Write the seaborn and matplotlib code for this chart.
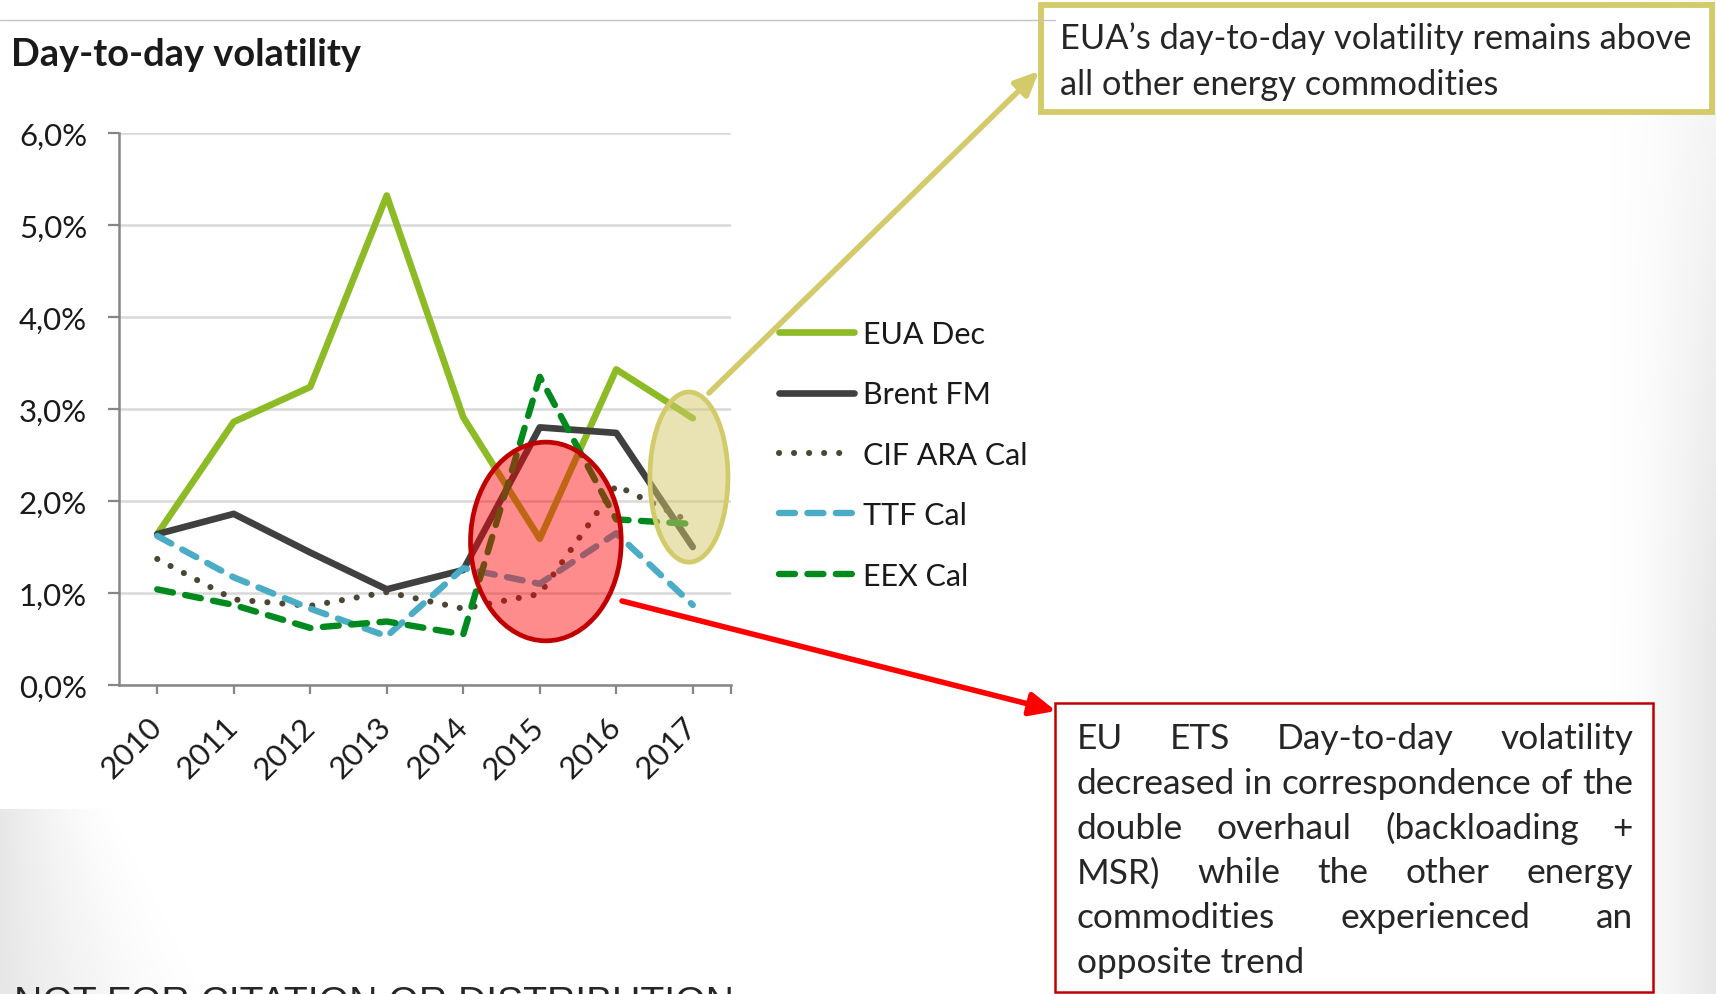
import numpy as np
import pandas as pd
import matplotlib
matplotlib.use("Agg")
import matplotlib.pyplot as plt
import seaborn as sns
from matplotlib.patches import Ellipse, FancyArrowPatch, Rectangle
from matplotlib.lines import Line2D
from matplotlib.ticker import FuncFormatter, FixedLocator

# ---- data (day-to-day volatility, %) ----
years = ["2010", "2011", "2012", "2013", "2014", "2015", "2016", "2017"]
eua_dec = [1.64, 2.86, 3.24, 5.32, 2.91, 1.59, 3.43, 2.90]
brent_fm = [1.64, 1.86, 1.44, 1.04, 1.25, 2.80, 2.74, 1.50]
cif_ara_cal = [1.37, 0.93, 0.86, 1.01, 0.83, 0.99, 2.17, 1.76]
ttf_cal = [1.62, 1.17, 0.83, 0.53, 1.27, 1.10, 1.65, 0.87]
eex_cal = [1.04, 0.87, 0.62, 0.69, 0.55, 3.35, 1.80, 1.75]
series_names = ["EUA Dec", "Brent FM", "CIF ARA Cal", "TTF Cal", "EEX Cal"]
y_ticks = [0, 1, 2, 3, 4, 5, 6]

title_text = "Day-to-day volatility"
note_top = ["EUA\u2019s day-to-day volatility remains above",
            "all other energy commodities"]
note_bottom = ["EU ETS Day-to-day volatility",
               "decreased in correspondence of the",
               "double overhaul (backloading +",
               "MSR) while the other energy",
               "commodities experienced an",
               "opposite trend"]
footer_text = "NOT FOR CITATION OR DISTRIBUTION"

# ---- styling ----
W, H = 1716, 995
FONT = "Lato"
sns.set_theme(style="white")
plt.rcParams["font.family"] = [FONT, "DejaVu Sans"]

styles = {
    "EUA Dec":     dict(color="#8cbb26", dashes=None, lw=4.8),
    "Brent FM":    dict(color="#404040", dashes=None, lw=4.8),
    "CIF ARA Cal": dict(color="#4d4634", dashes=(0.01, 2.45), lw=4.4),
    "TTF Cal":     dict(color="#4bacc6", dashes=(2.5, 1.95), lw=4.6),
    "EEX Cal":     dict(color="#008a1e", dashes=(2.5, 1.95), lw=4.6),
}
TEXT_COLOR = "#262626"
OLIVE = "#d3ca6a"


def fx(x):
    return x / W


def fy(y):
    return 1 - y / H


fig = plt.figure(figsize=(W / 100, H / 100), dpi=100)
fig.patch.set_facecolor("white")
renderer = fig.canvas.get_renderer()


def fitted_size(text, target_px, **kw):
    """Font size at which `text` spans target_px pixels."""
    probe = fig.text(0, 0, text, fontsize=20, **kw)
    width = probe.get_window_extent(renderer).width
    probe.remove()
    return 20 * target_px / width


# soft slide background: grey fade at the lower-left and along the right edge
bg = fig.add_axes([0, 0, 1, 1], zorder=-10)
xx, yy = np.meshgrid(np.arange(W, dtype=float), np.arange(H, dtype=float))
reach = 110 + np.clip(yy - 810, 0, None) * 0.5
left = np.where(yy >= 810, np.clip(1 - xx / reach, 0, 1), 0.0)
right = np.clip((xx - 1610) / 106, 0, 1)
shade = 24 * left ** 1.4 + 24 * right ** 1.5 * np.clip(0.35 + yy / H, 0, 1)
img = np.clip(255 - shade, 0, 255).astype(np.uint8)
bg.imshow(np.dstack([img, img, img]), extent=[0, W, H, 0], aspect="auto")
bg.set_xlim(0, W)
bg.set_ylim(H, 0)
bg.axis("off")

# ---- main chart ----
ax = fig.add_axes([fx(119), fy(686), (731 - 119) / W, (686 - 134) / H])
ax.set_facecolor("none")
table = {"EUA Dec": eua_dec, "Brent FM": brent_fm, "CIF ARA Cal": cif_ara_cal,
         "TTF Cal": ttf_cal, "EEX Cal": eex_cal}
for name in series_names:
    st = styles[name]
    df = pd.DataFrame({"year": years, "value": table[name]})
    sns.lineplot(data=df, x="year", y="value", ax=ax, sort=False,
                 color=st["color"], linewidth=st["lw"], label=name, zorder=3)
    ln = ax.lines[-1]
    ln.set_linewidth(st["lw"])
    if st["dashes"] is not None:
        ln.set_dashes(st["dashes"])
        ln.set_dash_capstyle("round")
    else:
        ln.set_solid_capstyle("round")
    ln.set_solid_joinstyle("round")
    ln.set_dash_joinstyle("round")

ax.set_xlim(-0.5, len(years) - 0.5)
ax.set_ylim(0, 6)
ax.set_xlabel("")
ax.set_ylabel("")
ax.yaxis.set_major_locator(FixedLocator(y_ticks))
ax.yaxis.set_major_formatter(FuncFormatter(lambda v, _: f"{v:.1f}%".replace(".", ",")))
ax.grid(axis="y", color="#d9d9d9", linewidth=1.8, zorder=0)
ax.grid(axis="x", visible=False)
for side in ("top", "right"):
    ax.spines[side].set_visible(False)
for side in ("left", "bottom"):
    ax.spines[side].set_color("#868686")
    ax.spines[side].set_linewidth(1.8)

ax.set_xticks(range(len(years)))
ax.set_xticklabels(years)
ax.xaxis.set_minor_locator(FixedLocator([len(years) - 0.5]))
ax.tick_params(axis="x", which="both", direction="out", length=6.5, width=1.6,
               color="#868686", bottom=True)
ax.tick_params(axis="x", which="major", labelsize=22.5, labelcolor="#1a1a1a", pad=20)
ax.tick_params(axis="y", direction="out", length=8, width=1.6, color="#868686",
               left=True, labelsize=22.5, labelcolor="#1a1a1a", pad=15)
for lab in ax.get_xticklabels():
    lab.set_rotation(45)
    lab.set_ha("right")
    lab.set_va("center")
    lab.set_rotation_mode("anchor")
    lab.set_x(lab.get_position()[0])

handles, labels = ax.get_legend_handles_labels()
leg = ax.legend(handles, labels, loc="upper left",
                bbox_to_anchor=(fx(779), fy(321)), bbox_transform=fig.transFigure,
                frameon=False, fontsize=22, handlelength=2.45, handletextpad=0.3,
                labelspacing=1.06, borderpad=0, borderaxespad=0)
for t in leg.get_texts():
    t.set_color("#1a1a1a")

# highlight ellipses (data coordinates)
ax.add_patch(Ellipse((5.08, 1.56), 1.97, 2.16, facecolor=(1.0, 0.0, 0.0, 0.45),
                     edgecolor="#c00000", linewidth=3.4, zorder=5, clip_on=False))
ax.add_patch(Ellipse((6.95, 2.26), 1.02, 1.85, facecolor=(0.83, 0.79, 0.42, 0.5),
                     edgecolor=OLIVE, linewidth=3.4, zorder=5, clip_on=False))

# ---- title and page furniture ----
fig.text(fx(11), fy(55), title_text,
         fontsize=fitted_size(title_text, 350, fontweight="bold"),
         fontweight="bold", color="#1a1a1a", ha="left", va="center")
fig.add_artist(Line2D([0, fx(1055)], [fy(20.5), fy(20.5)], color="#c4c4c4",
                      linewidth=1.0, transform=fig.transFigure, zorder=9))
fig.text(fx(14), fy(986), footer_text,
         fontsize=fitted_size(footer_text, 718, family="Liberation Sans"),
         family="Liberation Sans", color=TEXT_COLOR, ha="left", va="top")

# callout arrows
fig.add_artist(FancyArrowPatch((fx(709), fy(394)), (fx(1039), fy(72)),
                               transform=fig.transFigure,
                               arrowstyle="-|>,head_length=1.1,head_width=0.5",
                               mutation_scale=13, color=OLIVE, linewidth=4.0,
                               shrinkA=0, shrinkB=0, zorder=6))
fig.add_artist(FancyArrowPatch((fx(622), fy(602)), (fx(1056), fy(712)),
                               transform=fig.transFigure,
                               arrowstyle="-|>,head_length=1.1,head_width=0.5",
                               mutation_scale=14, color="#ff0000", linewidth=4.0,
                               shrinkA=0, shrinkB=0, zorder=6))

# upper callout box
fig.add_artist(Rectangle((fx(1041), fy(113)), (1712 - 1041) / W, (113 - 6) / H,
                         transform=fig.transFigure, facecolor="white",
                         edgecolor=OLIVE, linewidth=4.2, zorder=7))
top_size = fitted_size(note_top[0], 632)
for i, line in enumerate(note_top):
    fig.text(fx(1060), fy(39 + 46 * i), line, fontsize=top_size, color=TEXT_COLOR,
             ha="left", va="center", zorder=8)

# lower callout box with justified text
fig.add_artist(Rectangle((fx(1055), fy(993)), (1653 - 1055) / W, (993 - 704) / H,
                         transform=fig.transFigure, facecolor="white",
                         edgecolor="#c00000", linewidth=1.8, zorder=7))
x_left, x_right = 1077, 1633
body_size = fitted_size(note_bottom[1], x_right - x_left)
for i, line in enumerate(note_bottom):
    yline = fy(739 + 44.8 * i)
    words = line.split(" ")
    if i == len(note_bottom) - 1:
        fig.text(fx(x_left), yline, line, fontsize=body_size, color=TEXT_COLOR,
                 ha="left", va="center", zorder=8)
        continue
    arts = [fig.text(0, yline, w, fontsize=body_size, color=TEXT_COLOR,
                     ha="left", va="center", zorder=8) for w in words]
    wpx = [a.get_window_extent(renderer).width for a in arts]
    gap = (x_right - x_left - sum(wpx)) / (len(words) - 1)
    xpos = x_left
    for a, wd in zip(arts, wpx):
        a.set_x(fx(xpos))
        xpos += wd + gap

fig.savefig("out.png", dpi=100)
